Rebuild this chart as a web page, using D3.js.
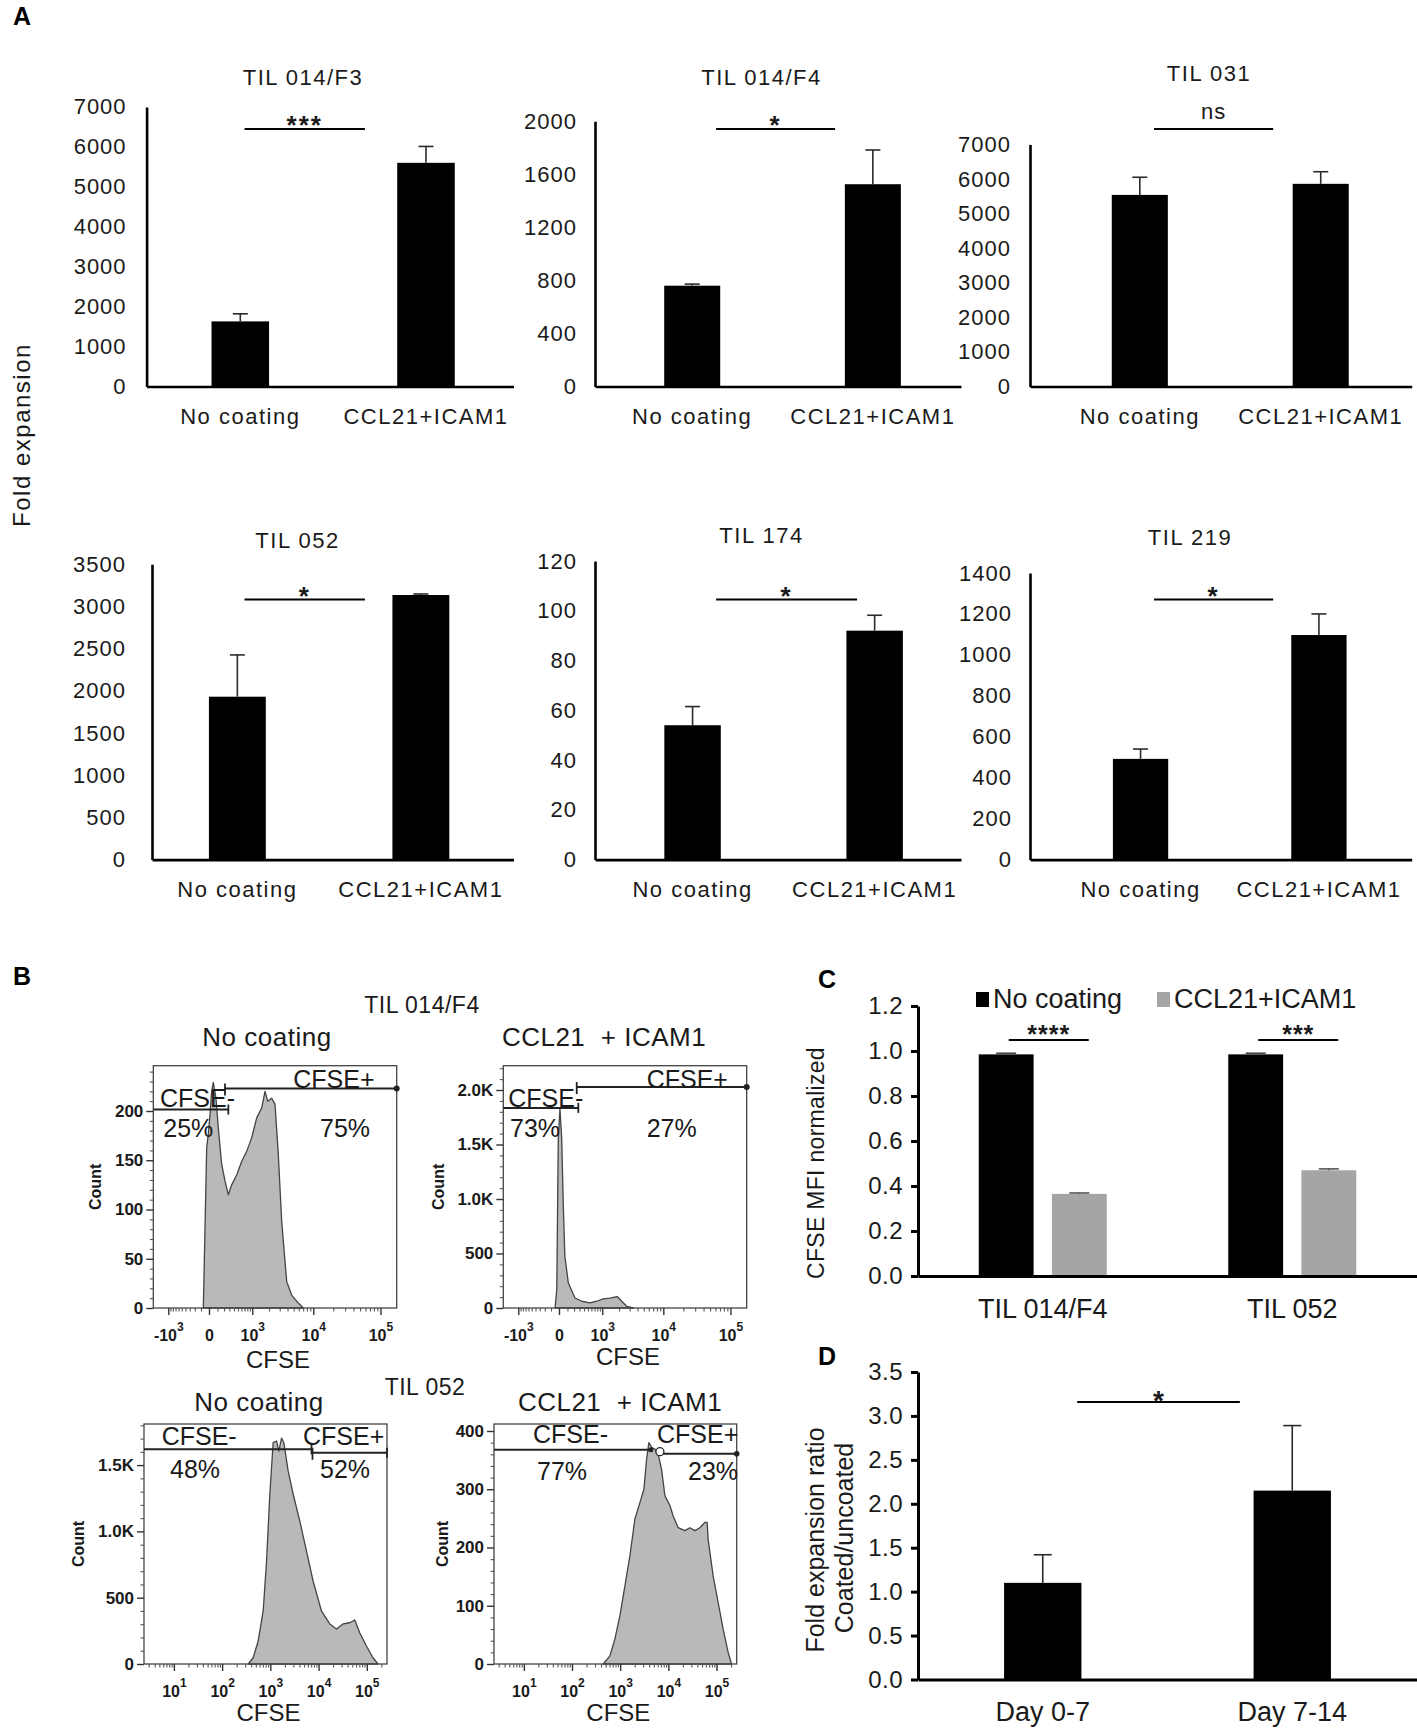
<!DOCTYPE html>
<html>
<head>
<meta charset="utf-8">
<script src="https://cdnjs.cloudflare.com/ajax/libs/d3/7.8.5/d3.min.js"></script>
<style>
body { margin: 0; background: #fff; }
svg { display: block; }
</style>
</head>
<body>
<div id="figure"></div>
<script>
var FONT = "'Liberation Sans', Arial, Helvetica, sans-serif";
var INK = "#1a1a1a";

////////////////////////////////////////////
/////////////////// DATA ///////////////////
////////////////////////////////////////////

// A - fold expansion
var coatings = ["No coating", "CCL21+ICAM1"];
var tilNames = ["TIL 014/F3", "TIL 014/F4", "TIL 031", "TIL 052", "TIL 174", "TIL 219"];
var foldMeans = [[1630, 5600], [760, 1525], [5540, 5860], [1930, 3135], [54, 92], [492, 1097]];
var foldErrors = [[190, 410], [12, 258], [510, 350], [495, 12], [7.5, 6.2], [48, 103]];
var foldSignif = ["***", "*", "ns", "*", "*", "*"];
var foldMax = [7000, 2000, 7000, 3500, 120, 1400];
var foldStep = [1000, 400, 1000, 500, 20, 200];

// B - CFSE histograms
var cfseTils = ["TIL 014/F4", "TIL 052"];
var cfseTitles = ["No coating", "CCL21  + ICAM1", "No coating", "CCL21  + ICAM1"];
var hist014NoCoatX = [-68, -26, -8, 10, 28, 47, 80, 111, 161, 216, 277, 347, 467, 609, 777, 976, 1212, 1490, 1702, 1896, 2212, 2510, 2843, 3226, 3878, 4650, 5890, 7040];
var hist014NoCoatCount = [0, 163, 176, 196, 220, 229, 213, 183, 146, 129, 115, 125, 135, 149, 159, 173, 193, 203, 220, 210, 213, 207, 156, 88, 27, 13, 5, 0];
var hist014CoatX = [-46, -25, -8, 10, 29, 47, 66, 111, 216, 347, 557, 777, 1045, 1390, 1850, 2212, 2680, 3440];
var hist014CoatCount = [0, 170, 1553, 1830, 1553, 938, 477, 231, 92, 62, 46, 62, 83, 90, 105, 62, 16, 0];
var hist052NoCoatX = [346, 440, 559, 710, 834, 976, 1143, 1342, 1498, 1704, 1903, 2337, 2966, 4080, 5615, 7690, 11470, 17050, 23460, 32140, 44230, 56170, 71250, 98100, 134300, 170500];
var hist052NoCoatCount = [0, 47, 173, 400, 777, 1282, 1669, 1682, 1606, 1704, 1669, 1456, 1282, 1078, 852, 626, 400, 302, 264, 302, 311, 332, 236, 136, 47, 0];
var hist052CoatX = [444, 612, 777, 986, 1253, 1592, 2020, 2566, 3105, 3532, 3945, 4487, 5250, 6150, 7230, 8470, 10750, 12590, 15990, 22030, 27940, 35480, 45060, 57240, 63870, 66970, 85050, 107900, 137100, 174100, 205000];
var hist052CoatCount = [0, 14, 43, 83, 134, 186, 249, 277, 300, 352, 380, 372, 369, 360, 334, 289, 272, 254, 234, 229, 234, 229, 234, 243, 243, 214, 151, 106, 60, 20, 0];
var cfseMinusPct = ["25%", "73%", "48%", "77%"];
var cfsePlusPct = ["75%", "27%", "52%", "23%"];
var gateMinusEnd = [278, 277, 7130, 4335];
var gatePlusStart = [216, 247, 7475, 6670];
var gateMinusLevel = [201.5, 1836, 1619, 368];
var gatePlusLevel = [222.9, 2027, 1593, 361];
var countMax = [246, 2223, 1810, 412];
var countTicks = [[0, 50, 100, 150, 200], [0, 500, 1000, 1500, 2000], [0, 500, 1000, 1500], [0, 100, 200, 300, 400]];
var countMinorStep = [10, 100, 100, 20];
var biexTicks = [-1000, 0, 1000, 10000, 100000];
var logTicks = [10, 100, 1000, 10000, 100000];

// C - CFSE MFI normalized
var mfiGroups = ["TIL 014/F4", "TIL 052"];
var mfiSeries = ["No coating", "CCL21+ICAM1"];
var mfiNoCoat = [0.985, 0.985];
var mfiNoCoatErr = [0.005, 0.005];
var mfiCoat = [0.365, 0.47];
var mfiCoatErr = [0.004, 0.006];
var mfiSignif = ["****", "***"];
var mfiTicks = [0, 0.2, 0.4, 0.6, 0.8, 1.0, 1.2];

// D - expansion ratio
var ratioDays = ["Day 0-7", "Day 7-14"];
var ratioMeans = [1.1, 2.15];
var ratioErrors = [0.32, 0.74];
var ratioSignif = "*";
var ratioTicks = [0, 0.5, 1.0, 1.5, 2.0, 2.5, 3.0, 3.5];

////////////////////////////////////////////
////////////////// LAYOUT //////////////////
////////////////////////////////////////////

var foldLayout = [
	{x0: 146.6, x1: 513.5, top: 106.9, bottom: 386.5, po: 0.333, al: 0.525, pad: 20, tx: 303, ty: 85, sig: [0.267, 0.595], sigY: 129},
	{x0: 595, x1: 961, top: 121.2, bottom: 386.5, po: 0.358, al: 0.535, pad: 18, tx: 761.5, ty: 85, sig: [0.331, 0.656], sigY: 129},
	{x0: 1030, x1: 1411.7, top: 144.4, bottom: 386.5, po: 0.4, al: 0.565, pad: 19, tx: 1209, ty: 81, sig: [0.325, 0.637], sigY: 129},
	{x0: 152, x1: 513.5, top: 564.2, bottom: 859.6, po: 0.33, al: 0.47, pad: 26, tx: 297.5, ty: 548, sig: [0.256, 0.589], sigY: 599.5},
	{x0: 595, x1: 961, top: 561, bottom: 859.6, po: 0.35, al: 0.544, pad: 18, tx: 761.5, ty: 542.5, sig: [0.331, 0.716], sigY: 599.5},
	{x0: 1030, x1: 1411.7, top: 573, bottom: 859.6, po: 0.415, al: 0.56, pad: 18, tx: 1190, ty: 544.7, sig: [0.325, 0.637], sigY: 599.5}
];

var histLayout = [
	{kind: "biex", left: 153.3, right: 396.7, top: 1065.7, bottom: 1308, countX: -58, titleX: 267, titleY: 1046, axisTitleY: 1368,
		labels: [[6.7, 41], [10, 71], [140, 22.3], [166.7, 71]], plusEnd: "dot"},
	{kind: "biex", left: 503.3, right: 746.7, top: 1065.7, bottom: 1308, countX: -65, titleX: 604, titleY: 1046, axisTitleY: 1365,
		labels: [[5, 41], [6.7, 71], [143.4, 22.3], [143.4, 71]], plusEnd: "dot"},
	{kind: "log", left: 144, right: 387, top: 1424, bottom: 1664, countX: -66, titleX: 259, titleY: 1411, axisTitleY: 1721,
		labels: [[17.7, 21], [26, 54], [159, 21], [176, 54]], plusEnd: "tick"},
	{kind: "log", left: 494, right: 736.7, top: 1424, bottom: 1664, countX: -52, titleX: 620, titleY: 1411, axisTitleY: 1721,
		labels: [[39, 19], [43, 56], [163, 19], [194, 56]], plusEnd: "circle"}
];

var svgContainer;

function onLoad() {
	svgContainer = d3.select("#figure")
	.append("svg")
	.attr("width", 1417)
	.attr("height", 1728)
	.style("font-family", FONT);

	drawPanelLetters();
	drawPanelA();
	drawPanelB();
	drawPanelC();
	drawPanelD();
}

////////////////////////////////////////////
////////////////// HELPERS /////////////////
////////////////////////////////////////////

function addText(parent, x, y, str, size, opts) {
	opts = opts || {};
	var t = parent.append("text")
	.attr("x", x)
	.attr("y", y)
	.attr("font-size", size)
	.attr("fill", opts.fill || INK)
	.attr("text-anchor", opts.anchor || "start")
	.style("font-family", FONT)
	.style("white-space", "pre")
	.text(str);
	if (opts.weight) t.attr("font-weight", opts.weight);
	if (opts.spacing) t.style("letter-spacing", opts.spacing + "px");
	if (opts.rotate) t.attr("transform", "rotate(-90," + x + "," + y + ")");
	return t;
}

function styleAxis(sel, width, size, spacing) {
	sel.select(".domain").attr("stroke", "#000").attr("stroke-width", width);
	sel.selectAll(".tick line").attr("stroke", "#000").attr("stroke-width", width);
	sel.selectAll(".tick text")
	.attr("fill", INK)
	.style("font-family", FONT)
	.style("font-size", size + "px")
	.style("letter-spacing", (spacing || 0) + "px");
}

function drawErrorBar(parent, cx, yBase, yTop, capW, color, width) {
	parent.append("line")
	.attr("x1", cx).attr("x2", cx)
	.attr("y1", yBase).attr("y2", yTop)
	.attr("stroke", color).attr("stroke-width", width);
	parent.append("line")
	.attr("x1", cx - capW / 2).attr("x2", cx + capW / 2)
	.attr("y1", yTop).attr("y2", yTop)
	.attr("stroke", color).attr("stroke-width", width);
}

function drawPanelLetters() {
	addText(svgContainer, 13, 25, "A", 25, {weight: "bold", fill: "#000"});
	addText(svgContainer, 13, 985, "B", 25, {weight: "bold", fill: "#000"});
	addText(svgContainer, 818, 988, "C", 25, {weight: "bold", fill: "#000"});
	addText(svgContainer, 818, 1365, "D", 25, {weight: "bold", fill: "#000"});
}

////////////////////////////////////////////
////////////////// PANEL A /////////////////
////////////////////////////////////////////

function drawPanelA() {
	for (var i = 0; i < tilNames.length; i++) {
		drawFoldChart(i);
	}
	addText(svgContainer, 30, 435, "Fold expansion", 24, {anchor: "middle", rotate: true, spacing: 1.5});
}

function drawFoldChart(i) {
	var L = foldLayout[i];
	var g = svgContainer.append("g");

	var y = d3.scaleLinear().domain([0, foldMax[i]]).range([L.bottom, L.top]);
	var x = d3.scaleBand().domain(coatings).range([L.x0, L.x1])
	.paddingInner(0.69).paddingOuter(L.po).align(L.al);

	// bars
	g.selectAll("rect.bar")
	.data(coatings)
	.enter()
	.append("rect")
	.attr("class", "bar")
	.attr("x", function(d) { return x(d); })
	.attr("y", function(d, j) { return y(foldMeans[i][j]); })
	.attr("width", x.bandwidth())
	.attr("height", function(d, j) { return L.bottom - y(foldMeans[i][j]); })
	.attr("fill", "#000");

	coatings.forEach(function(d, j) {
		var cx = x(d) + x.bandwidth() / 2;
		drawErrorBar(g, cx, y(foldMeans[i][j]), y(foldMeans[i][j] + foldErrors[i][j]), 15, "#2a2a2a", 1.6);
	});

	// axes
	var yAxis = d3.axisLeft(y)
	.tickValues(d3.range(0, foldMax[i] + foldStep[i] / 2, foldStep[i]))
	.tickSize(0).tickSizeOuter(0).tickPadding(L.pad)
	.tickFormat(d3.format("d"));
	g.append("g")
	.attr("transform", "translate(" + L.x0 + ",0)")
	.call(yAxis)
	.call(styleAxis, 2.6, 22, 1);

	var xAxis = d3.axisBottom(x).tickSize(0).tickSizeOuter(0).tickPadding(22);
	g.append("g")
	.attr("transform", "translate(0," + L.bottom + ")")
	.call(xAxis)
	.call(styleAxis, 2.6, 22, 1.5);

	// title
	addText(g, L.tx, L.ty, tilNames[i], 22, {anchor: "middle", spacing: 1.5});

	// significance
	var s = d3.scaleLinear().domain([0, 1]).range([L.x0, L.x1]);
	g.append("line")
	.attr("x1", s(L.sig[0])).attr("x2", s(L.sig[1]))
	.attr("y1", L.sigY).attr("y2", L.sigY)
	.attr("stroke", "#000").attr("stroke-width", 1.8);
	var mid = (s(L.sig[0]) + s(L.sig[1])) / 2;
	if (foldSignif[i] === "ns") {
		addText(g, mid, L.sigY - 10, "ns", 22, {anchor: "middle", spacing: 1});
	} else {
		addText(g, mid, L.sigY + 5, foldSignif[i], 26, {anchor: "middle", spacing: 2, weight: "bold"});
	}
}

////////////////////////////////////////////
////////////////// PANEL B /////////////////
////////////////////////////////////////////

function drawPanelB() {
	addText(svgContainer, 422, 1013, cfseTils[0], 23, {anchor: "middle", spacing: 0.5});
	addText(svgContainer, 425, 1395, cfseTils[1], 23, {anchor: "middle", spacing: 0.5});

	drawHistogram(0, hist014NoCoatX, hist014NoCoatCount);
	drawHistogram(1, hist014CoatX, hist014CoatCount);
	drawHistogram(2, hist052NoCoatX, hist052NoCoatCount);
	drawHistogram(3, hist052CoatX, hist052CoatCount);
}

function countFormat(v) {
	return v >= 1000 ? (v / 1000).toFixed(1) + "K" : String(v);
}

function superLabels(sel) {
	sel.selectAll(".tick text").each(function(d) {
		var t = d3.select(this);
		t.text(null);
		if (d === 0) {
			t.text("0");
			return;
		}
		var e = Math.round(Math.log10(Math.abs(d)));
		t.append("tspan").text((d < 0 ? "-" : "") + "10");
		t.append("tspan").attr("dy", -10).style("font-size", "12px").text(e);
	});
}

function drawHistogram(k, xs, counts) {
	var L = histLayout[k];
	var g = svgContainer.append("g");

	var x, majors, minors;
	if (L.kind === "biex") {
		x = d3.scaleSymlog().constant(300)
		.domain([-1930, 0, 173700])
		.range([L.left, L.left + 55.7, L.right]);
		majors = biexTicks;
		minors = d3.range(-900, 0, 100)
		.concat(d3.range(100, 1000, 100))
		.concat(d3.range(2000, 10000, 1000))
		.concat(d3.range(20000, 100000, 10000));
	} else {
		x = d3.scaleLog().domain([2.4, 262144]).range([L.left, L.right]);
		majors = logTicks;
		minors = [];
		for (var e = 0; e <= 5; e++) {
			for (var m = 2; m <= 9; m++) {
				var v = m * Math.pow(10, e);
				if (v > 2.4 && v < 262144) minors.push(v);
			}
		}
	}
	var y = d3.scaleLinear().domain([0, countMax[k]]).range([L.bottom, L.top]);

	// histogram
	var pts = xs.map(function(v, i) { return [v, counts[i]]; });
	var area = d3.area()
	.x(function(d) { return x(d[0]); })
	.y0(y(0))
	.y1(function(d) { return y(d[1]); });
	g.append("path")
	.datum(pts)
	.attr("d", area)
	.attr("fill", "#b9b9b9")
	.attr("stroke", "#444")
	.attr("stroke-width", 1.3)
	.attr("stroke-linejoin", "round");

	// frame
	g.append("rect")
	.attr("x", L.left).attr("y", L.top)
	.attr("width", L.right - L.left).attr("height", L.bottom - L.top)
	.attr("fill", "none").attr("stroke", "#444").attr("stroke-width", 1.3);

	// x axis
	var xMajor = g.append("g").attr("transform", "translate(0," + L.bottom + ")")
	.call(d3.axisBottom(x).tickValues(majors).tickSize(7).tickSizeOuter(0).tickPadding(15));
	xMajor.select(".domain").remove();
	xMajor.selectAll(".tick line").attr("stroke", "#333").attr("stroke-width", 1.4);
	xMajor.selectAll(".tick text").attr("fill", INK).attr("font-weight", "bold")
	.style("font-family", FONT).style("font-size", "16px");
	xMajor.call(superLabels);

	var xMinor = g.append("g").attr("transform", "translate(0," + L.bottom + ")")
	.call(d3.axisBottom(x).tickValues(minors).tickSize(3.5).tickSizeOuter(0).tickFormat(""));
	xMinor.select(".domain").remove();
	xMinor.selectAll(".tick line").attr("stroke", "#555").attr("stroke-width", 1.1);

	// y axis
	var yMajor = g.append("g").attr("transform", "translate(" + L.left + ",0)")
	.call(d3.axisLeft(y).tickValues(countTicks[k]).tickSize(7).tickSizeOuter(0).tickPadding(3).tickFormat(countFormat));
	yMajor.select(".domain").remove();
	yMajor.selectAll(".tick line").attr("stroke", "#333").attr("stroke-width", 1.4);
	yMajor.selectAll(".tick text").attr("fill", INK).attr("font-weight", "bold")
	.style("font-family", FONT).style("font-size", "17px");

	var yMinorVals = d3.range(0, countMax[k], countMinorStep[k]).filter(function(v) {
		return countTicks[k].indexOf(v) < 0;
	});
	var yMinor = g.append("g").attr("transform", "translate(" + L.left + ",0)")
	.call(d3.axisLeft(y).tickValues(yMinorVals).tickSize(3.5).tickSizeOuter(0).tickFormat(""));
	yMinor.select(".domain").remove();
	yMinor.selectAll(".tick line").attr("stroke", "#555").attr("stroke-width", 1.1);

	// gates
	var gy1 = y(gateMinusLevel[k]), gx1 = x(gateMinusEnd[k]);
	var gy2 = y(gatePlusLevel[k]), gx2 = x(gatePlusStart[k]);
	g.append("line").attr("x1", L.left).attr("x2", gx1).attr("y1", gy1).attr("y2", gy1)
	.attr("stroke", "#222").attr("stroke-width", 2);
	g.append("line").attr("x1", gx2).attr("x2", L.right).attr("y1", gy2).attr("y2", gy2)
	.attr("stroke", "#222").attr("stroke-width", 2);
	if (L.plusEnd === "circle") {
		g.append("circle").attr("cx", gx1).attr("cy", gy1).attr("r", 2.5).attr("fill", "#222");
		g.append("circle").attr("cx", gx2).attr("cy", gy2 - 2).attr("r", 4)
		.attr("fill", "#fff").attr("stroke", "#222").attr("stroke-width", 1.3);
		g.append("circle").attr("cx", L.right).attr("cy", gy2).attr("r", 2.8).attr("fill", "#222");
	} else {
		g.append("line").attr("x1", gx1).attr("x2", gx1).attr("y1", gy1 - 5).attr("y2", gy1 + 5)
		.attr("stroke", "#222").attr("stroke-width", 1.8);
		g.append("line").attr("x1", gx2).attr("x2", gx2).attr("y1", gy2 - 5).attr("y2", gy2 + 7)
		.attr("stroke", "#222").attr("stroke-width", 1.8);
		if (L.plusEnd === "dot") {
			g.append("circle").attr("cx", L.right).attr("cy", gy2).attr("r", 3).attr("fill", "#222");
		} else {
			g.append("line").attr("x1", L.right).attr("x2", L.right).attr("y1", gy2 - 5).attr("y2", gy2 + 5)
			.attr("stroke", "#222").attr("stroke-width", 1.8);
		}
	}

	// gate labels
	var lab = L.labels;
	addText(g, L.left + lab[0][0], L.top + lab[0][1], "CFSE-", 25);
	addText(g, L.left + lab[1][0], L.top + lab[1][1], cfseMinusPct[k], 25);
	addText(g, L.left + lab[2][0], L.top + lab[2][1], "CFSE+", 25);
	addText(g, L.left + lab[3][0], L.top + lab[3][1], cfsePlusPct[k], 25);

	// titles
	addText(g, L.titleX, L.titleY, cfseTitles[k], 26, {anchor: "middle", spacing: 0.5});
	addText(g, (L.left + L.right) / 2 + 3, L.axisTitleY, "CFSE", 24, {anchor: "middle"});
	addText(g, L.left + L.countX + 5.6, (L.top + L.bottom) / 2, "Count", 16, {anchor: "middle", rotate: true, weight: "bold"});
}

////////////////////////////////////////////
////////////////// PANEL C /////////////////
////////////////////////////////////////////

function drawPanelC() {
	var g = svgContainer.append("g");
	var left = 918, right = 1417, top = 1006, bottom = 1276;

	var y = d3.scaleLinear().domain([0, 1.2]).range([bottom, top]);
	var x = d3.scaleBand().domain(mfiGroups).range([left, right]);
	var xs = d3.scaleBand().domain(mfiSeries).range([-64, 64]).paddingInner(0.25);
	var color = d3.scaleOrdinal().domain(mfiSeries).range(["#000", "#a5a5a5"]);
	var capColor = d3.scaleOrdinal().domain(mfiSeries).range(["#444", "#555"]);

	var rows = [];
	mfiGroups.forEach(function(grp, i) {
		rows.push({grp: grp, ser: mfiSeries[0], v: mfiNoCoat[i], e: mfiNoCoatErr[i]});
		rows.push({grp: grp, ser: mfiSeries[1], v: mfiCoat[i], e: mfiCoatErr[i]});
	});

	g.selectAll("rect.bar")
	.data(rows)
	.enter()
	.append("rect")
	.attr("x", function(d) { return x(d.grp) + x.bandwidth() / 2 + xs(d.ser); })
	.attr("y", function(d) { return y(d.v); })
	.attr("width", xs.bandwidth())
	.attr("height", function(d) { return bottom - y(d.v); })
	.attr("fill", function(d) { return color(d.ser); });

	rows.forEach(function(d) {
		var cx = x(d.grp) + x.bandwidth() / 2 + xs(d.ser) + xs.bandwidth() / 2;
		drawErrorBar(g, cx, y(d.v), y(d.v + d.e), 20, capColor(d.ser), 1.6);
	});

	g.append("g")
	.attr("transform", "translate(" + left + ",0)")
	.call(d3.axisLeft(y).tickValues(mfiTicks).tickSize(7).tickSizeOuter(0).tickPadding(8).tickFormat(d3.format(".1f")))
	.call(styleAxis, 3, 24, 0.5);

	g.append("g")
	.attr("transform", "translate(0," + bottom + ")")
	.call(d3.axisBottom(x).tickSize(0).tickSizeOuter(0).tickPadding(23))
	.call(styleAxis, 3, 27, 0);

	// significance
	mfiGroups.forEach(function(grp, i) {
		var c = x(grp) + x.bandwidth() / 2;
		var a = c - 34, b = c + 46;
		g.append("line").attr("x1", a).attr("x2", b).attr("y1", 1040).attr("y2", 1040)
		.attr("stroke", "#000").attr("stroke-width", 2);
		addText(g, (a + b) / 2, 1043, mfiSignif[i], 25, {anchor: "middle", spacing: 1, weight: "bold"});
	});

	// legend
	var legX = d3.scaleOrdinal().domain(mfiSeries).range([976, 1157]);
	mfiSeries.forEach(function(s) {
		g.append("rect").attr("x", legX(s)).attr("y", 992).attr("width", 13).attr("height", 15)
		.attr("fill", color(s));
		addText(g, legX(s) + 17, 1008, s, 27);
	});

	addText(g, 824, 1163, "CFSE MFI normalized", 23, {anchor: "middle", rotate: true, spacing: 0.3});
}

////////////////////////////////////////////
////////////////// PANEL D /////////////////
////////////////////////////////////////////

function drawPanelD() {
	var g = svgContainer.append("g");
	var left = 918, right = 1417, top = 1372, bottom = 1679.5;

	var y = d3.scaleLinear().domain([0, 3.5]).range([bottom, top]);
	var x = d3.scaleBand().domain(ratioDays).range([left, right]).paddingInner(0.69).paddingOuter(0.345);

	g.selectAll("rect.bar")
	.data(ratioDays)
	.enter()
	.append("rect")
	.attr("x", function(d) { return x(d); })
	.attr("y", function(d, i) { return y(ratioMeans[i]); })
	.attr("width", x.bandwidth())
	.attr("height", function(d, i) { return bottom - y(ratioMeans[i]); })
	.attr("fill", "#000");

	ratioDays.forEach(function(d, i) {
		drawErrorBar(g, x(d) + x.bandwidth() / 2, y(ratioMeans[i]), y(ratioMeans[i] + ratioErrors[i]), 18, "#2a2a2a", 1.6);
	});

	g.append("g")
	.attr("transform", "translate(" + left + ",0)")
	.call(d3.axisLeft(y).tickValues(ratioTicks).tickSize(7).tickSizeOuter(0).tickPadding(8).tickFormat(d3.format(".1f")))
	.call(styleAxis, 3, 24, 0.5);

	g.append("g")
	.attr("transform", "translate(0," + bottom + ")")
	.call(d3.axisBottom(x).tickSize(0).tickSizeOuter(0).tickPadding(22))
	.call(styleAxis, 3, 27, 0);

	var s = d3.scaleLinear().domain([0, 1]).range([left, right]);
	g.append("line").attr("x1", s(0.319)).attr("x2", s(0.645)).attr("y1", 1402).attr("y2", 1402)
	.attr("stroke", "#000").attr("stroke-width", 2);
	addText(g, (s(0.319) + s(0.645)) / 2, 1410, ratioSignif, 28, {anchor: "middle", weight: "bold"});

	addText(g, 824, 1540, "Fold expansion ratio", 25, {anchor: "middle", rotate: true});
	addText(g, 853, 1538, "Coated/uncoated", 25, {anchor: "middle", rotate: true});
}

onLoad();
</script>
</body>
</html>
